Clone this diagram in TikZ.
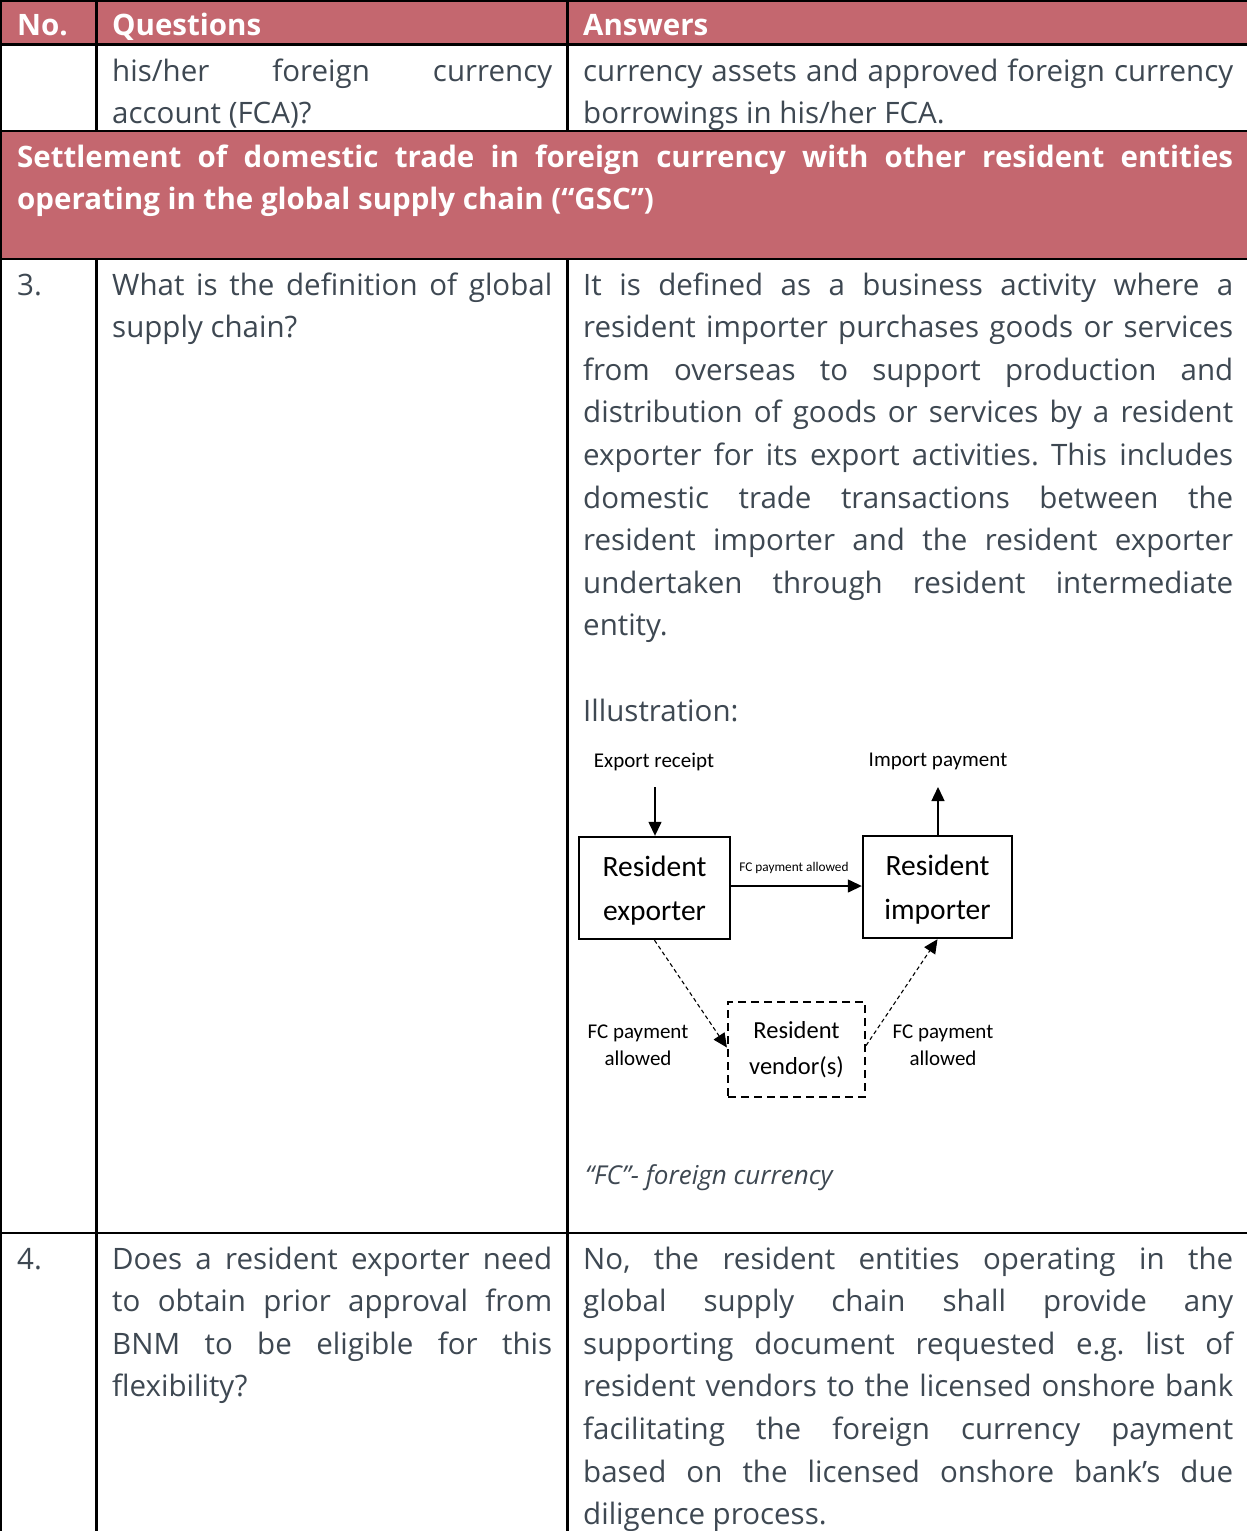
\documentclass[tikz,border=0pt]{standalone}
\usepackage{fontspec}
\setmainfont{Open Sans}
\newfontfamily\calfont{Carlito}
\usetikzlibrary{arrows.meta}
\definecolor{pinkc}{RGB}{196,103,111}
\definecolor{textc}{RGB}{62,72,82}
\newcommand\jl[1]{\hbox to\hsize{#1}}
\newcommand\lastl[1]{\hbox to\hsize{#1\hfil}}
\frenchspacing
\tikzset{
  body/.style={anchor=base west, inner sep=0pt, text=textc, font=\frenchspacing\fontsize{29.5}{42.6}\selectfont},
  head/.style={anchor=base west, inner sep=0pt, text=white, font=\bfseries\fontsize{29.5}{42.6}\selectfont},
  rule/.style={line width=2.2pt, black},
  dbox/.style={draw, line width=2.4pt, inner sep=0pt},
  dtxt/.style={inner sep=0pt, align=center, font=\calfont\fontsize{29.5}{44}\selectfont},
  vbox/.style={draw, line width=2.2pt, dash pattern=on 8pt off 5pt, inner sep=0pt},
  vtxt/.style={inner sep=0pt, align=center, font=\calfont\fontsize{24.5}{36}\selectfont},
  lbl/.style={inner sep=0pt, align=center, font=\calfont\fontsize{21}{27}\selectfont},
  arr/.style={line width=1.4pt, -{Triangle[length=14pt,width=13pt]}},
  darr/.style={line width=1.1pt, dash pattern=on 4pt off 3pt, -{Triangle[length=14pt,width=13pt]}}
}
\begin{document}
\begin{tikzpicture}[x=1pt,y=-1pt]
\useasboundingbox (0,0) rectangle (1247,1531);
\fill[white] (0,0) rectangle (1247,1531);
% pink bands
\fill[pinkc] (0,0) rectangle (1247,44.5);
\fill[pinkc] (0,131) rectangle (1247,259);
% rules
\draw[rule] (0,1) -- (1247,1);
\draw[rule] (1.2,0) -- (1.2,1531);
\draw[rule] (0,44.5) -- (1247,44.5);
\draw[rule] (0,131) -- (1247,131);
\draw[rule] (0,259) -- (1247,259);
\draw[rule] (0,1233) -- (1247,1233);
\draw[rule] (96.5,0) -- (96.5,131);
\draw[rule] (96.5,259) -- (96.5,1531);
\draw[rule] (567.5,0) -- (567.5,131);
\draw[rule] (567.5,259) -- (567.5,1531);
% header
\node[head] (hno) at (17,35) {No.};
\node[head] (hq) at (112,35) {Questions};
\node[head] (ha) at (583,35) {Answers};
% row 1
\node[body] (q1) at (112,81) {\vtop{\hsize=440pt\jl{his/her foreign currency}\lastl{account (FCA)?}}};
\node[body] (a1) at (583,81) {\vtop{\hsize=650pt\jl{currency assets and approved foreign currency}\lastl{borrowings in his/her FCA.}}};
% section
\node[head] (sec) at (17,167) {\vtop{\hsize=1216pt\jl{Settlement of domestic trade in foreign currency with other resident entities}\lastl{operating in the global supply chain (“GSC”)}}};
% row 3
\node[body] (n3) at (17,295) {3.};
\node[body] (q3) at (112,295) {\vtop{\hsize=440pt\jl{What is the definition of global}\lastl{supply chain?}}};
\node[body] (a3) at (583,295) {\vtop{\hsize=650pt
\jl{It is defined as a business activity where a}
\jl{resident importer purchases goods or services}
\jl{from overseas to support production and}
\jl{distribution of goods or services by a resident}
\jl{exporter for its export activities. This includes}
\jl{domestic trade transactions between the}
\jl{resident importer and the resident exporter}
\jl{undertaken through resident intermediate}
\lastl{entity.}}};
\node[body] (ill) at (583,721) {Illustration:};
% diagram
\node[dbox, minimum width=151pt, minimum height=102pt] (exp) at (654.5,888) {};
\node[dtxt, yshift=-3pt] (expt) at (exp.center) {Resident\\exporter};
\node[dbox, minimum width=149pt, minimum height=102pt] (imp) at (937.5,887) {};
\node[dtxt, yshift=-3pt] (impt) at (imp.center) {Resident\\importer};
\node[vbox, minimum width=137pt, minimum height=95pt] (ven) at (796.5,1049.5) {};
\node[vtxt] (vent) at (ven.center) {Resident\\vendor(s)};
\node[lbl] (er) at (654,762) {Export receipt};
\node[lbl] (ip) at (938,761) {Import payment};
\coordinate (ertail) at (655,787);
\coordinate (iptip) at (938,787);
\draw[arr] (ertail) -- (ertail |- exp.north);
\draw[arr] (iptip |- imp.north) -- (iptip);
\node[inner sep=0pt, font=\calfont\fontsize{13.3}{16}\selectfont] (fch) at (794,868) {FC payment allowed};
\draw[arr] (exp.east |- 0,886) -- (imp.west |- 0,886);
\draw[darr] (exp.south) -- ([yshift=2pt]ven.west);
\draw[darr] ([yshift=4pt]ven.east) -- (imp.south);
\node[lbl] (fcl) at (638,1045.5) {FC payment\\allowed};
\node[lbl] (fcr) at (943,1045.5) {FC payment\\allowed};
\node[body, font=\itshape\fontsize{26}{30}\selectfont] (note) at (585,1184) {“FC”- foreign currency};
% row 4
\node[body] (n4) at (17,1269) {4.};
\node[body] (q4) at (112,1269) {\vtop{\hsize=440pt
\jl{Does a resident exporter need}
\jl{to obtain prior approval from}
\jl{BNM to be eligible for this}
\lastl{flexibility?}}};
\node[body] (a4) at (583,1269) {\vtop{\hsize=650pt
\jl{No, the resident entities operating in the}
\jl{global supply chain shall provide any}
\jl{supporting document requested e.g. list of}
\jl{resident vendors to the licensed onshore bank}
\jl{facilitating the foreign currency payment}
\jl{based on the licensed onshore bank’s due}
\lastl{diligence process.}}};
\end{tikzpicture}
\end{document}
